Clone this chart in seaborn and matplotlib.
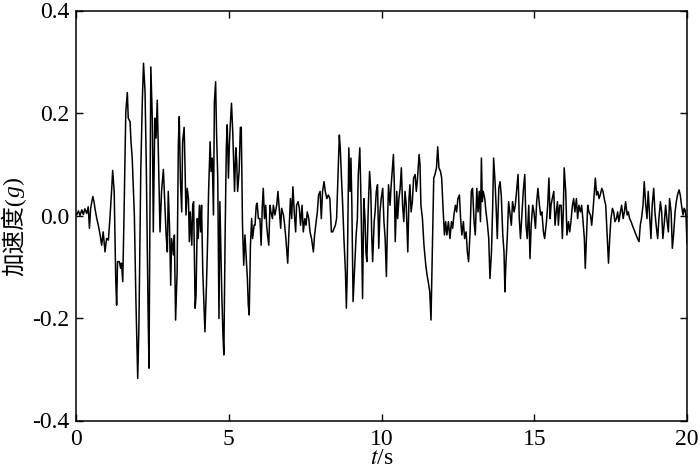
import numpy as np
import pandas as pd
import matplotlib
matplotlib.use("Agg")
import matplotlib.pyplot as plt
import seaborn as sns

# ---- data (time in s, acceleration in g) ----
t_seg1 = [0.00, 0.02, 0.08, 0.13, 0.19, 0.24, 0.29, 0.35, 0.40, 0.44, 0.48, 0.55, 0.59, 0.62, 0.68,
          0.73, 0.79, 0.84, 0.89, 0.95, 1.00, 1.06, 1.11, 1.17, 1.20, 1.25, 1.30, 1.33, 1.36, 1.42,
          1.46, 1.49, 1.53, 1.57, 1.63, 1.68, 1.71, 1.77, 1.80, 1.84, 1.91, 1.96, 2.02, 2.06, 2.12,
          2.17, 2.21, 2.26, 2.30, 2.36, 2.39, 2.42, 2.45, 2.50, 2.53, 2.58, 2.62, 2.66, 2.71, 2.75,
          2.80, 2.86]
a_seg1 = [0.003, 0.001, 0.009, 0.000, 0.011, 0.002, 0.013, 0.004, 0.017, -0.025, 0.014, 0.037, 0.027, 0.014, -0.006,
          -0.019, -0.038, -0.058, -0.032, -0.071, -0.045, -0.048, -0.006, 0.053, 0.088, 0.047, -0.123, -0.175, -0.090, -0.090,
          -0.103, -0.093, -0.129, -0.006, 0.202, 0.240, 0.190, 0.183, 0.144, 0.112, 0.001, -0.162, -0.318, -0.214, 0.086,
          0.222, 0.297, 0.241, 0.100, -0.188, -0.298, -0.006, 0.290, 0.183, -0.032, 0.190, 0.151, 0.225, 0.080, -0.032,
          0.047, 0.090]

t_seg2 = [2.95, 2.99, 3.02, 3.06, 3.10, 3.13, 3.19, 3.22, 3.26, 3.31, 3.35, 3.38, 3.42, 3.46, 3.49,
          3.54, 3.57, 3.60, 3.64, 3.68, 3.71, 3.74, 3.79, 3.82, 3.85, 3.90, 3.93, 3.97, 4.00, 4.04,
          4.08, 4.11, 4.15, 4.19, 4.22, 4.27, 4.31, 4.34, 4.39, 4.42, 4.46, 4.50, 4.53, 4.57, 4.60,
          4.64, 4.68, 4.71, 4.77, 4.81, 4.84, 4.88, 4.92, 4.95, 4.99, 5.02, 5.05, 5.09, 5.13, 5.16,
          5.19, 5.23, 5.26, 5.29, 5.34, 5.38, 5.41, 5.45, 5.49, 5.53, 5.56, 5.61, 5.64, 5.67, 5.71,
          5.75, 5.78, 5.83, 5.86, 5.90, 5.93, 5.97]
a_seg2 = [-0.038, -0.071, 0.047, -0.019, -0.136, -0.045, -0.077, -0.038, -0.204, -0.110, 0.138, 0.193, 0.066, 0.007, 0.144,
          0.172, 0.093, 0.001, 0.053, 0.033, -0.051, 0.007, -0.058, 0.020, 0.027, -0.181, -0.155, -0.006, -0.045, 0.020,
          -0.032, 0.020, -0.110, -0.175, -0.227, -0.136, -0.045, 0.047, 0.144, 0.086, 0.112, 0.001, 0.222, 0.261, 0.164,
          0.073, -0.201, 0.027, -0.149, -0.233, -0.272, -0.045, 0.132, 0.177, 0.073, 0.138, 0.177, 0.219, 0.164, 0.106,
          0.047, 0.132, 0.106, 0.047, 0.086, 0.172, 0.172, -0.019, -0.097, -0.038, -0.071, -0.123, -0.175, -0.194, -0.058,
          -0.006, -0.045, -0.019, -0.019, 0.020, 0.024, -0.006]

t_seg3 = [6.02, 6.06, 6.10, 6.13, 6.17, 6.21, 6.24, 6.27, 6.31, 6.35, 6.38, 6.43, 6.46, 6.51, 6.57,
          6.61, 6.66, 6.70, 6.73, 6.79, 6.83, 6.87, 6.93, 6.97, 7.02, 7.06, 7.10, 7.15, 7.19, 7.22,
          7.27, 7.31, 7.35, 7.40, 7.44, 7.49, 7.53, 7.57, 7.62, 7.66, 7.71, 7.77, 7.81, 7.86, 7.90,
          7.94, 7.99, 8.03, 8.07, 8.12, 8.16, 8.21, 8.26, 8.31, 8.36, 8.40, 8.45, 8.49, 8.53, 8.58,
          8.62, 8.65, 8.69, 8.73, 8.77, 8.82, 8.85, 8.88, 8.93, 8.97, 9.00, 9.03, 9.07]
a_seg3 = [-0.006, -0.058, 0.020, 0.053, -0.006, 0.020, -0.019, -0.038, -0.058, 0.020, 0.007, -0.006, 0.020, 0.001, 0.020,
          0.047, 0.007, -0.025, 0.014, 0.001, -0.019, -0.045, -0.093, -0.032, 0.033, -0.006, 0.056, 0.001, -0.032, 0.020,
          0.027, 0.014, -0.019, 0.020, -0.032, -0.006, -0.019, 0.007, -0.006, -0.032, -0.045, -0.071, -0.038, -0.012, 0.007,
          0.040, 0.047, -0.006, 0.047, 0.066, 0.047, 0.033, 0.040, 0.033, -0.032, -0.032, -0.025, -0.019, -0.006, 0.086,
          0.157, 0.132, 0.073, 0.020, -0.045, -0.110, -0.181, -0.110, 0.132, 0.047, 0.112, 0.020, -0.168]

t_seg4 = [9.17, 9.21, 9.24, 9.29, 9.32, 9.35, 9.38, 9.42, 9.46, 9.49, 9.52, 9.57, 9.61, 9.65, 9.68,
          9.71, 9.76, 9.79, 9.83, 9.87, 9.91, 9.95, 9.99, 10.04, 10.08, 10.12, 10.16, 10.20, 10.23, 10.28,
          10.31, 10.35, 10.39, 10.42, 10.45, 10.50, 10.53, 10.57, 10.61, 10.65, 10.69, 10.73, 10.77, 10.81, 10.86,
          10.90, 10.93, 10.97, 11.01, 11.05, 11.10, 11.14, 11.18, 11.23, 11.26, 11.29, 11.34, 11.39, 11.45, 11.49,
          11.53, 11.58, 11.62, 11.66, 11.71, 11.75, 11.80, 11.84, 11.88, 11.93, 11.97, 12.01, 12.06, 12.10, 12.14,
          12.19]
a_seg4 = [-0.038, -0.006, 0.080, 0.132, 0.053, -0.045, -0.162, 0.033, -0.006, -0.071, -0.090, 0.020, 0.086, 0.047, -0.038,
          -0.090, -0.012, 0.007, 0.047, 0.060, -0.064, 0.007, 0.033, 0.053, -0.012, -0.045, -0.119, -0.006, 0.060, 0.020,
          0.053, 0.086, 0.119, 0.060, -0.051, 0.047, -0.006, 0.033, 0.053, 0.093, 0.020, -0.012, 0.047, 0.020, -0.071,
          0.033, 0.060, 0.007, 0.027, 0.073, 0.080, 0.047, 0.073, 0.119, 0.100, 0.020, -0.006, -0.058, -0.097, -0.116,
          -0.129, -0.149, -0.204, -0.084, 0.073, 0.080, 0.093, 0.134, 0.093, 0.086, 0.073, 0.020, -0.038, -0.012, -0.038,
          -0.012]

t_seg5 = [12.24, 12.29, 12.33, 12.37, 12.42, 12.46, 12.50, 12.55, 12.59, 12.63, 12.68, 12.72, 12.77, 12.81, 12.85,
          12.90, 12.94, 12.98, 13.03, 13.07, 13.12, 13.16, 13.20, 13.24, 13.27, 13.30, 13.33, 13.38, 13.42, 13.46,
          13.51, 13.55, 13.60, 13.64, 13.67, 13.71, 13.75, 13.79, 13.84, 13.88, 13.92, 13.97, 14.01, 14.04, 14.07,
          14.12, 14.16, 14.20, 14.25, 14.29, 14.34, 14.38, 14.42, 14.47, 14.51, 14.55, 14.60, 14.64, 14.69, 14.73,
          14.77, 14.82, 14.86, 14.90, 14.95, 14.99, 15.04, 15.08, 15.12, 15.17, 15.21, 15.25, 15.30, 15.34]
a_seg5 = [-0.045, -0.012, -0.025, 0.001, 0.020, 0.007, 0.033, 0.040, -0.006, -0.038, -0.012, -0.045, -0.032, -0.071, -0.090,
          -0.032, 0.047, 0.053, -0.012, -0.038, 0.053, 0.007, 0.047, -0.012, 0.112, 0.027, 0.047, 0.033, 0.007, -0.012,
          -0.045, -0.123, -0.071, 0.020, 0.112, 0.073, 0.020, -0.045, 0.053, 0.066, 0.040, -0.038, -0.071, -0.149, -0.097,
          -0.038, 0.027, 0.007, -0.019, 0.027, 0.007, 0.020, 0.047, 0.080, -0.006, -0.045, 0.007, 0.047, 0.080, -0.019,
          -0.045, 0.020, -0.084, -0.019, 0.020, 0.007, -0.025, 0.027, 0.053, 0.020, 0.001, 0.007, -0.032, -0.045]

t_seg6 = [15.40, 15.44, 15.48, 15.52, 15.55, 15.59, 15.64, 15.68, 15.72, 15.76, 15.79, 15.83, 15.88, 15.92, 15.95,
          15.98, 16.03, 16.07, 16.12, 16.16, 16.20, 16.25, 16.29, 16.33, 16.38, 16.42, 16.46, 16.51, 16.55, 16.59,
          16.64, 16.67, 16.70, 16.75, 16.79, 16.84, 16.88, 16.92, 16.97, 17.00, 17.04, 17.08, 17.12, 17.16, 17.21,
          17.25, 17.29, 17.34, 17.38, 17.43, 17.47, 17.51, 17.56, 17.60, 17.64, 17.69, 17.73, 17.77, 17.82, 17.86,
          17.91, 17.95, 17.99, 18.04, 18.08, 18.12, 18.17, 18.21, 18.25, 18.30, 18.34, 18.38, 18.43, 18.47, 18.51,
          18.56, 18.60, 18.65, 18.69, 18.73, 18.78, 18.82, 18.86, 18.91, 18.95, 18.99, 19.04, 19.08, 19.13, 19.17,
          19.21, 19.26, 19.30, 19.35, 19.39, 19.43, 19.48, 19.52, 19.56, 19.61, 19.65, 19.69, 19.74, 19.78, 19.82,
          19.87, 19.91, 19.94, 19.97, 20.00]
a_seg6 = [-0.012, 0.020, 0.073, -0.006, 0.020, 0.033, 0.047, -0.019, 0.007, 0.027, -0.019, 0.020, 0.020, -0.045, 0.007,
          0.093, 0.047, -0.038, -0.012, -0.032, -0.012, 0.020, 0.033, 0.007, 0.033, -0.006, 0.020, 0.007, 0.020, -0.006,
          -0.045, -0.103, -0.058, 0.020, 0.007, 0.001, -0.019, 0.007, 0.047, 0.073, 0.040, 0.047, 0.033, 0.040, 0.053,
          0.047, 0.033, 0.020, -0.032, -0.093, -0.045, -0.006, 0.014, 0.007, -0.012, -0.006, 0.007, -0.012, 0.007, 0.020,
          -0.006, 0.007, 0.027, 0.001, 0.007, -0.006, -0.012, -0.019, -0.025, -0.032, -0.038, -0.045, -0.051, -0.019, -0.006,
          0.020, 0.066, 0.020, -0.006, 0.047, -0.006, -0.045, 0.020, 0.053, 0.007, -0.019, -0.045, -0.006, 0.027, 0.007,
          -0.045, -0.012, 0.020, -0.012, -0.032, 0.033, 0.007, -0.064, -0.038, 0.007, 0.027, 0.040, 0.050, 0.040, 0.020,
          0.001, 0.014, 0.010, -0.004, -0.055]

x_ticks = [0, 5, 10, 15, 20]
y_ticks = [-0.4, -0.2, 0.0, 0.2, 0.4]
x_ticklabels = ["0", "5", "10", "15", "20"]
y_ticklabels = ["-0.4", "-0.2", "0.0", "0.2", "0.4"]

t_all = t_seg1 + t_seg2 + t_seg3 + t_seg4 + t_seg5 + t_seg6
a_all = a_seg1 + a_seg2 + a_seg3 + a_seg4 + a_seg5 + a_seg6
df = pd.DataFrame({"t": t_all, "a": a_all})

# ---- style ----
sns.set_theme(style="ticks")
plt.rcParams["font.family"] = ["Liberation Serif", "Noto Sans CJK SC", "DejaVu Sans"]
plt.rcParams["mathtext.fontset"] = "stix"
plt.rcParams["axes.unicode_minus"] = False

fig = plt.figure(figsize=(7.0, 4.74), dpi=100)
ax = fig.add_axes([76 / 700, 1 - 420.5 / 474, (687 - 76) / 700, (420.5 - 10.5) / 474])

sns.lineplot(data=df, x="t", y="a", ax=ax, color="black", linewidth=1.1,
             estimator=None, sort=False)

ax.set_xlim(0, 20)
ax.set_ylim(-0.4, 0.4)
ax.set_xticks(x_ticks)
ax.set_xticklabels(x_ticklabels)
ax.set_yticks(y_ticks)
ax.set_yticklabels(y_ticklabels)
ax.tick_params(direction="in", length=5, width=1.0, top=True, right=True,
               labelsize=17, colors="black")
ax.tick_params(axis="x", pad=6)
ax.tick_params(axis="y", pad=5)
for sp in ax.spines.values():
    sp.set_visible(True)
    sp.set_linewidth(1.1)
    sp.set_color("black")

ax.set_xlabel(r"$t$/s", fontsize=17, labelpad=-1, color="black")
ax.set_ylabel("")

# y label: "加速度(" + italic "g" + ")"
fam = ["Liberation Serif", "Noto Sans CJK SC"]
t1 = fig.text(14 / 700, 1 - 276 / 474, "加速度(", rotation=90, ha="center", va="bottom",
              fontsize=17, family=fam, color="black")
t2 = ax.annotate("g", xy=(0.5, 1.0), xycoords=t1, rotation=90, ha="center", va="bottom",
                 fontsize=17, family=fam, style="italic", color="black", annotation_clip=False)
t3 = ax.annotate(")", xy=(0.5, 1.0), xycoords=t2, rotation=90, ha="center", va="bottom",
                 fontsize=17, family=fam, color="black", annotation_clip=False)

fig.savefig("out.png", dpi=100, facecolor="white")
